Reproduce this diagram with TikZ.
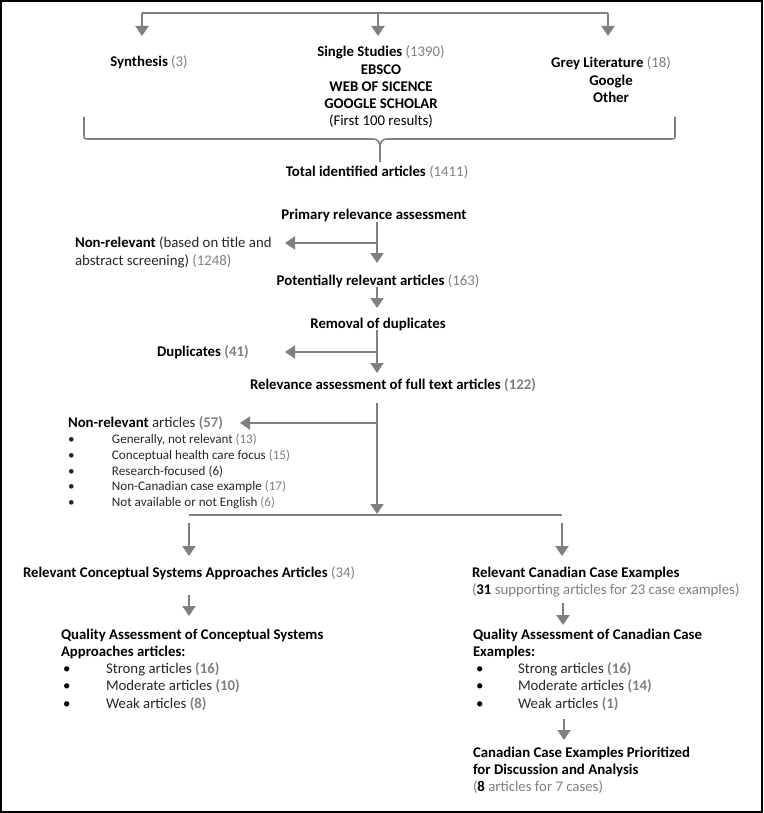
\documentclass[tikz,border=0pt]{standalone}
\usepackage{fontspec}
\setmainfont{Carlito}
\usetikzlibrary{arrows.meta}
\definecolor{lngray}{HTML}{808080}
\definecolor{numgray}{HTML}{7F7F7F}
\definecolor{txtdark}{HTML}{262626}
\newcommand{\nm}[1]{\textcolor{numgray}{#1}}
\newcommand{\bnm}[1]{\textcolor{numgray}{\textbf{#1}}}
\newcommand{\itm}[2]{\makebox[#1][l]{\textbullet}#2}
\tikzset{
  every node/.style={inner sep=0pt, outer sep=0pt},
  txt/.style={font=\fontsize{14.8}{17.2}\selectfont, text=black},
  ctxt/.style={txt, align=center},
  ltxt/.style={txt, align=left},
  small/.style={font=\fontsize{13.1}{15.8}\selectfont, text=txtdark, align=left},
  conn/.style={draw=lngray, line width=2pt},
  arr/.style={conn, -{Triangle[length=10pt,width=13pt]}},
}
\begin{document}
\begin{tikzpicture}[x=1pt,y=-1pt]
\useasboundingbox (0,0) rectangle (763,813);
\draw[black, line width=1.6pt] (1,1) rectangle (762,812);

% top sources
\node[ctxt, anchor=north] (synth) at (149,56) {\textbf{Synthesis} \nm{(3)}};
\node[ctxt, anchor=north] (single) at (381,46) {\textbf{Single Studies} \nm{(1390)}\\ \textbf{EBSCO}\\ \textbf{WEB OF SICENCE}\\ \textbf{GOOGLE SCHOLAR}\\ (First 100 results)};
\node[ctxt, anchor=north] (grey) at (611,57) {\textbf{Grey Literature} \nm{(18)}\\ \textbf{Google}\\ \textbf{Other}};

\coordinate (tl) at (142,13);
\coordinate (tc) at (378,13);
\coordinate (tr) at (608,13);
\coordinate (tla) at (142,36);
\coordinate (tca) at (378,36);
\coordinate (tra) at (608,36);
\draw[conn] (tl) -- (tr);
\draw[arr] (tl) -- (tla);
\draw[arr] (tc) -- (tca);
\draw[arr] (tr) -- (tra);

% brace
\draw[draw=lngray, line width=1.6pt] (84,117) -- (84,134) .. controls (84,139) .. (89,139) -- (372,139) .. controls (379,139) and (380,142) .. (380,150) -- (380,162);
\draw[draw=lngray, line width=1.6pt] (675,117) -- (675,134) .. controls (675,139) .. (670,139) -- (388,139) .. controls (381,139) and (380,142) .. (380,150);

\node[ctxt, anchor=north] (total) at (377,166) {\textbf{Total identified articles} \nm{(1411)}};
\node[ctxt, anchor=north] (primary) at (374,209) {\textbf{Primary relevance assessment}};

\coordinate (p1) at (377,222);
\coordinate (p2) at (377,263);
\coordinate (p3) at (377,243);
\coordinate (p4) at (285,243);
\draw[arr] (p1) -- (p2);
\draw[arr] (p3) -- (p4);
\node[ltxt, anchor=north west, font=\fontsize{14.8}{18}\selectfont] (nonrel1) at (75,237) {\textbf{Non-relevant} \textcolor{txtdark}{(based on title and}\\ \textcolor{txtdark}{abstract screening)} \nm{(1248)}};

\node[ctxt, anchor=north] (potential) at (378,275) {\textbf{Potentially relevant articles} \nm{(163)}};
\coordinate (q1) at (377,287);
\coordinate (q2) at (377,308);
\draw[arr] (q1) -- (q2);

\node[ctxt, anchor=north] (removal) at (378,318) {\textbf{Removal of duplicates}};
\coordinate (r1) at (377,330);
\coordinate (r2) at (377,373);
\coordinate (r3) at (377,352);
\coordinate (r4) at (285,352);
\draw[arr] (r1) -- (r2);
\draw[arr] (r3) -- (r4);
\node[ltxt, anchor=north west] (dup) at (157,346) {\textbf{Duplicates} \bnm{(41)}};

\node[ltxt, anchor=north west] (relev) at (250,379) {\textbf{Relevance assessment of full text articles} \bnm{(122)}};

\coordinate (s1) at (377,403);
\coordinate (s2) at (377,514);
\coordinate (s3) at (377,423);
\coordinate (s4) at (240,423);
\draw[arr] (s1) -- (s2);
\draw[arr] (s3) -- (s4);
\node[ltxt, anchor=north west] (nonrel2) at (68,417) {\textbf{Non-relevant} \textcolor{txtdark}{articles} \bnm{(57)}};
\node[small, anchor=north west] (nrlist) at (68,434) {\itm{44pt}{Generally, not relevant \nm{(13)}}\\ \itm{44pt}{Conceptual health care focus \nm{(15)}}\\ \itm{44pt}{Research-focused (6)}\\ \itm{44pt}{Non-Canadian case example \nm{(17)}}\\ \itm{44pt}{Not available or not English \nm{(6)}}};

% split
\coordinate (sl) at (189,515);
\coordinate (sr) at (562,515);
\draw[conn] (sl) -- (sr);
\coordinate (sla) at (189,523);
\coordinate (slb) at (189,556);
\coordinate (sra) at (562,523);
\coordinate (srb) at (562,556);
\draw[arr] (sla) -- (slb);
\draw[arr] (sra) -- (srb);

\node[ltxt, anchor=north west] (relconc) at (23,567) {\textbf{Relevant Conceptual Systems Approaches Articles} \nm{(34)}};
\node[ltxt, anchor=north west] (relcan) at (472,567) {\textbf{Relevant Canadian Case Examples}\\ \nm{(}\textbf{31} \nm{supporting articles for 23 case examples)}};

\coordinate (la1) at (189,595);
\coordinate (la2) at (189,616);
\draw[arr] (la1) -- (la2);
\coordinate (ra1) at (563,603);
\coordinate (ra2) at (563,625);
\draw[arr] (ra1) -- (ra2);

\node[ltxt, anchor=north west] (qualconc) at (61,629) {\textbf{Quality Assessment of Conceptual Systems}\\ \textbf{Approaches articles:}\\ \hspace*{2pt}\itm{43pt}{\textcolor{txtdark}{Strong articles} \bnm{(16)}}\\ \hspace*{2pt}\itm{43pt}{\textcolor{txtdark}{Moderate articles} \bnm{(10)}}\\ \hspace*{2pt}\itm{43pt}{\textcolor{txtdark}{Weak articles} \bnm{(8)}}};
\node[ltxt, anchor=north west] (qualcan) at (473,629) {\textbf{Quality Assessment of Canadian Case}\\ \textbf{Examples:}\\ \hspace*{3pt}\itm{42pt}{\textcolor{txtdark}{Strong articles} \bnm{(16)}}\\ \hspace*{3pt}\itm{42pt}{\textcolor{txtdark}{Moderate articles} \bnm{(14)}}\\ \hspace*{3pt}\itm{42pt}{\textcolor{txtdark}{Weak articles} \bnm{(1)}}};

\coordinate (pa1) at (564,719);
\coordinate (pa2) at (564,740);
\draw[arr] (pa1) -- (pa2);
\node[ltxt, anchor=north west] (prior) at (473,747) {\textbf{Canadian Case Examples Prioritized}\\ \textbf{for Discussion and Analysis}\\ \nm{(}\textbf{8} \nm{articles for 7 cases)}};
\end{tikzpicture}
\end{document}
